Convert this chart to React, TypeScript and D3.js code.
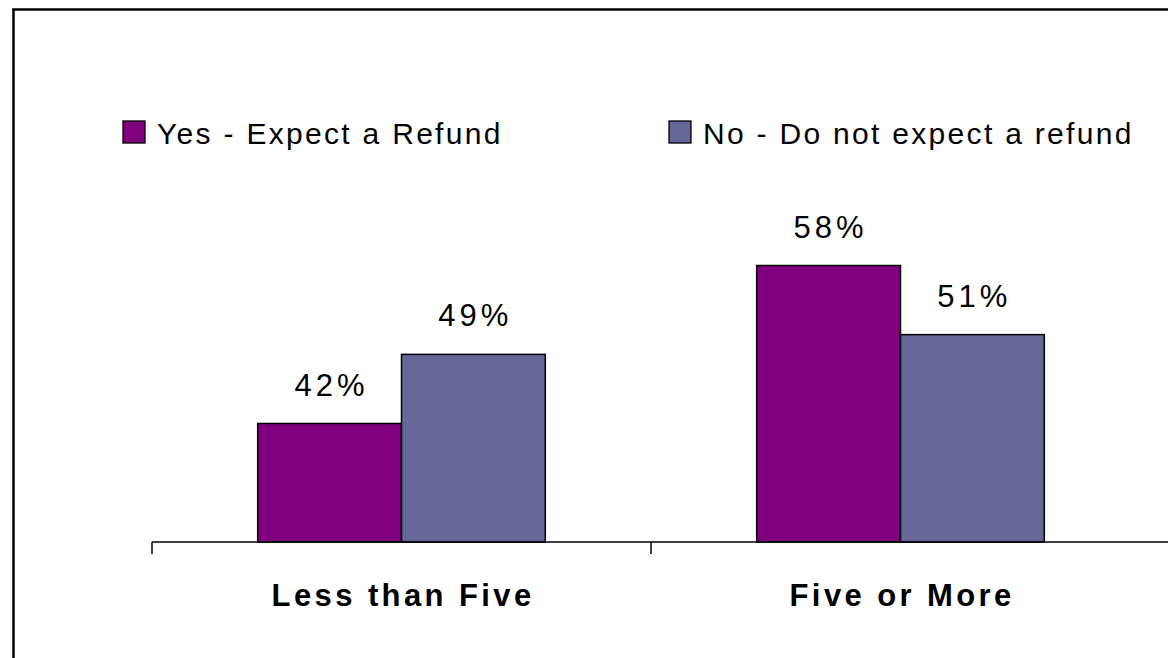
import React from "react";
import * as d3 from "d3";

const categories = ["Less than Five", "Five or More"];
const seriesNames = ["Yes - Expect a Refund", "No - Do not expect a refund"];
const yesValues = [42, 58];
const noValues = [49, 51];
const colors = ["#800080", "#666699"];

const W = 1168;
const H = 658;

export default function App() {
  const x0 = d3.scaleBand<string>().domain(categories).range([152, 1150]).padding(0);
  const x1 = d3
    .scaleBand<string>()
    .domain(seriesNames)
    .range([0, x0.bandwidth()])
    .paddingInner(0)
    .paddingOuter(0.735);
  const y = d3.scaleLinear().domain([30, 80]).range([542, 48.25]);
  const baseY = y(30);

  const data = categories.map((c, i) => ({
    cat: c,
    vals: [yesValues[i], noValues[i]],
  }));

  // category boundary ticks (the closing tick at the right end falls outside the frame in the original)
  const tickXs = categories.map((c) => x0(c) as number);

  const legendX = [123, 669];

  return (
    <svg
      width={W}
      height={H}
      style={{ position: "absolute", left: 0, top: 0, background: "#fff" }}
      fontFamily="'Liberation Sans', Arial, sans-serif"
    >
      <rect x={0} y={0} width={W} height={H} fill="#fff" />
      {/* outer frame */}
      <line x1={13.5} y1={9} x2={13.5} y2={H} stroke="#000" strokeWidth={2.5} />
      <line x1={12} y1={9.5} x2={W} y2={9.5} stroke="#000" strokeWidth={2.5} />

      {/* legend */}
      {seriesNames.map((s, i) => (
        <g key={s}>
          <rect x={legendX[i]} y={121} width={22} height={22} fill={colors[i]} stroke="#000" strokeWidth={1.3} />
          <text x={legendX[i] + 34} y={143.5} fontSize={30} letterSpacing={2.3} fill="#000">
            {s}
          </text>
        </g>
      ))}

      {/* bars */}
      {data.map((d) => (
        <g key={d.cat} transform={`translate(${x0(d.cat)},0)`}>
          {d.vals.map((v, j) => {
            const bx = x1(seriesNames[j]) as number;
            const bw = x1.bandwidth();
            return (
              <g key={j}>
                <rect
                  x={bx}
                  y={y(v)}
                  width={bw}
                  height={baseY - y(v)}
                  fill={colors[j]}
                  stroke="#000"
                  strokeWidth={1.5}
                />
                <text
                  x={bx + bw / 2 + 2}
                  y={y(v) - 28}
                  textAnchor="middle"
                  fontSize={31}
                  letterSpacing={4}
                  fill="#000"
                >
                  {v}%
                </text>
              </g>
            );
          })}
        </g>
      ))}

      {/* category axis */}
      <line x1={tickXs[0]} y1={baseY} x2={W} y2={baseY} stroke="#000" strokeWidth={1.5} />
      {tickXs.map((tx, i) => (
        <line key={i} x1={tx} y1={baseY} x2={tx} y2={baseY + 12} stroke="#000" strokeWidth={1.5} />
      ))}
      {categories.map((c) => (
        <text
          key={c}
          x={(x0(c) as number) + x0.bandwidth() / 2 + 1.6}
          y={606}
          textAnchor="middle"
          fontSize={31}
          fontWeight="bold"
          letterSpacing={3.4}
          fill="#000"
        >
          {c}
        </text>
      ))}
    </svg>
  );
}
